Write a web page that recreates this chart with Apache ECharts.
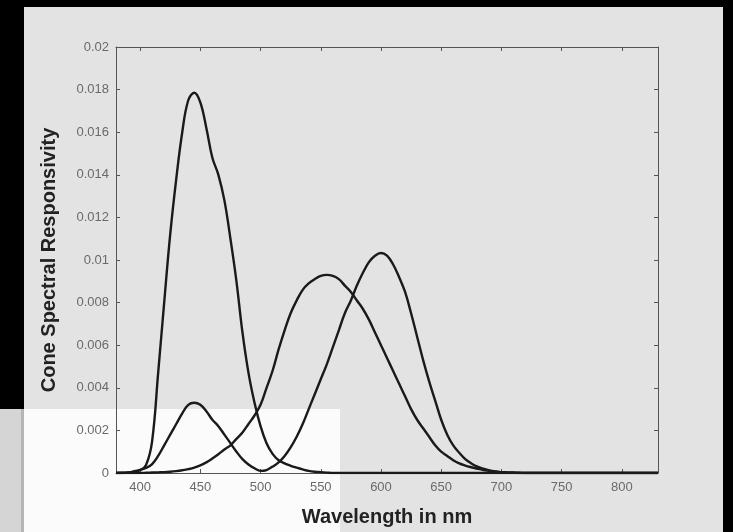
<!DOCTYPE html>
<html>
<head>
<meta charset="utf-8">
<script src="https://cdn.jsdelivr.net/npm/echarts@6/dist/echarts.min.js"></script>
<style>
html,body{margin:0;padding:0;background:#000;}
#chart{width:733px;height:532px;}
</style>
</head>
<body>
<div id="chart"></div>
<script>
// Wavelengths (nm)
var wavelengths = [380,385,390,395,400,405,410,415,420,425,430,435,440,445,450,455,460,465,470,475,480,485,490,495,500,505,510,515,520,525,530,535,540,545,550,555,560,565,570,575,580,585,590,595,600,605,610,615,620,625,630,635,640,645,650,655,660,665,670,675,680,685,690,695,700,705,710,715,720,740,780,830];
// Short-wavelength curve (large peak ~445 nm)
var sCurve = [0,0,0.00002,0.00006,0.00013,0.00038,0.0015,0.0047,0.0080,0.0112,0.0138,0.0160,0.0175,0.01785,0.0174,0.0162,0.0148,0.0140,0.0128,0.0110,0.0090,0.0066,0.0047,0.0033,0.0022,0.0014,0.0009,0.0006,0.00045,0.00034,0.00025,0.00017,0.0001,0.00006,0.00004,0.00002,0,0,0,0,0,0,0,0,0,0,0,0,0,0,0,0,0,0,0,0,0,0,0,0,0,0,0,0,0,0,0,0,0,0,0,0];
// Middle-wavelength curve (peak ~555 nm)
var mCurve = [0,0,0,0,0,0.00001,0.00002,0.00003,0.00004,0.00006,0.00009,0.00013,0.00018,0.00025,0.00036,0.0005,0.00068,0.00088,0.0011,0.0013,0.0016,0.0019,0.0023,0.0027,0.0032,0.0040,0.0048,0.0058,0.0067,0.0075,0.0081,0.0086,0.0089,0.0091,0.00925,0.0093,0.00925,0.0091,0.0088,0.0085,0.0081,0.0077,0.0072,0.0066,0.0060,0.0054,0.0048,0.0042,0.0036,0.0030,0.0025,0.0021,0.0017,0.0013,0.0010,0.0008,0.0006,0.00045,0.00035,0.00027,0.0002,0.00014,0.0001,0.00006,0.00004,0.00003,0.00002,0.00001,0,0,0,0];
// Long-wavelength curve (secondary lobe ~445 nm, main peak ~600 nm)
var lCurve = [0,0.00001,0.00003,0.00008,0.00015,0.00024,0.00042,0.0008,0.0013,0.0018,0.0023,0.0028,0.0032,0.0033,0.0032,0.0029,0.0025,0.0022,0.0018,0.0014,0.0010,0.00065,0.0004,0.00022,0.0001,0.00014,0.0003,0.0005,0.0008,0.0012,0.0017,0.0023,0.0030,0.0037,0.0044,0.0051,0.0059,0.0067,0.0075,0.0081,0.0088,0.0094,0.0099,0.0102,0.01033,0.0102,0.0098,0.0092,0.0085,0.0075,0.0064,0.0053,0.0043,0.0034,0.0025,0.0018,0.0013,0.00095,0.00065,0.00045,0.0003,0.0002,0.00012,0.00007,0.00004,0.00002,0.00001,0,0,0,0,0];
// Tick labels
var xTicks = [400,450,500,550,600,650,700,750,800];
var yTicks = [0,0.002,0.004,0.006,0.008,0.01,0.012,0.014,0.016,0.018,0.02];

function pairs(vals){ return wavelengths.map(function(w,i){ return [w, vals[i]]; }); }

var axisColor = '#555';
var labelColor = '#6a6a6a';
var font = '"Liberation Sans", Arial, sans-serif';

var chart = echarts.init(document.getElementById('chart'), null, {renderer:'canvas'});
var lineStyle = {color:'#1a1a1a', width:2.4};
function mkSeries(name, vals){
  return {name:name, type:'line', data:pairs(vals), showSymbol:false, smooth:0.4,
    lineStyle:lineStyle, itemStyle:{color:'#1a1a1a'}, z:5, silent:true, animation:false};
}
chart.setOption({
  backgroundColor:'#000',
  animation:false,
  graphic:[
    {type:'rect', z:-100, silent:true, shape:{x:24,y:7,width:699,height:525}, style:{fill:'#e3e3e3'}},
    {type:'rect', z:-99, silent:true, shape:{x:24,y:409,width:316,height:123}, style:{fill:'#fbfbfb'}},
    {type:'rect', z:-99, silent:true, shape:{x:0,y:409,width:24,height:123}, style:{fill:'#d5d5d5'}},
    {type:'rect', z:-98, silent:true, shape:{x:21,y:409,width:3,height:123}, style:{fill:'#b5b5b5'}}
  ],
  grid:{left:116, top:47, width:542, height:426, containLabel:false},
  xAxis:[{
    type:'value', min:380, max:830, position:'bottom',
    axisLine:{show:true, onZero:false, lineStyle:{color:axisColor, width:1}},
    axisTick:{show:true, inside:true, length:4, customValues:xTicks, lineStyle:{color:axisColor}},
    axisLabel:{show:true, customValues:xTicks, color:labelColor, fontSize:13, fontFamily:font, margin:8},
    splitLine:{show:false},
    name:'Wavelength in nm', nameLocation:'middle', nameGap:34,
    nameTextStyle:{color:'#222', fontSize:20, fontWeight:'bold', fontFamily:font}
  },{
    type:'value', min:380, max:830, position:'top',
    axisLine:{show:true, onZero:false, lineStyle:{color:axisColor, width:1}},
    axisTick:{show:true, inside:true, length:4, customValues:xTicks, lineStyle:{color:axisColor}},
    axisLabel:{show:false}, splitLine:{show:false}
  }],
  yAxis:[{
    type:'value', min:0, max:0.02, interval:0.002, position:'left',
    axisLine:{show:true, onZero:false, lineStyle:{color:axisColor, width:1}},
    axisTick:{show:true, inside:true, length:4, lineStyle:{color:axisColor}},
    axisLabel:{show:true, color:labelColor, fontSize:13, fontFamily:font, margin:7,
      formatter:function(v){ return String(+v.toFixed(3)); }},
    splitLine:{show:false},
    name:'Cone Spectral Responsivity', nameLocation:'middle', nameGap:57, nameRotate:90,
    nameTextStyle:{color:'#222', fontSize:20, fontWeight:'bold', fontFamily:font}
  },{
    type:'value', min:0, max:0.02, interval:0.002, position:'right',
    axisLine:{show:true, onZero:false, lineStyle:{color:axisColor, width:1}},
    axisTick:{show:true, inside:true, length:4, lineStyle:{color:axisColor}},
    axisLabel:{show:false}, splitLine:{show:false}
  }],
  series:[
    mkSeries('S', sCurve),
    mkSeries('M', mCurve),
    mkSeries('L', lCurve)
  ]
});
</script>
</body>
</html>
